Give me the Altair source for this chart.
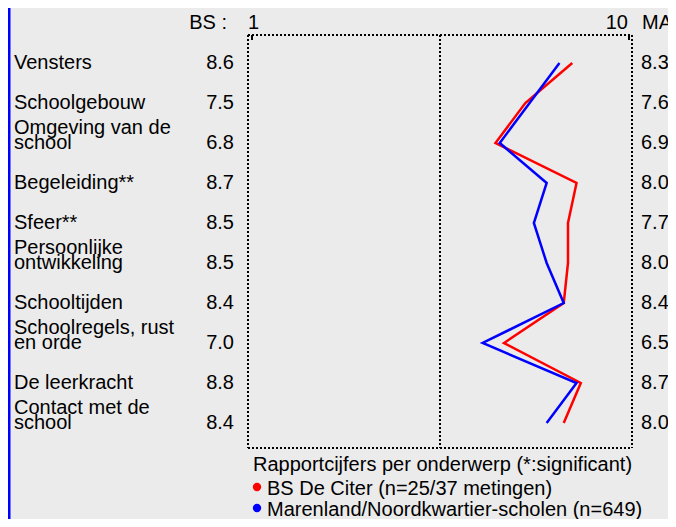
import altair as alt
import pandas as pd

categories = ["Vensters", "Schoolgebouw", "Omgeving van de\nschool", "Begeleiding**",
              "Sfeer**", "Persoonlijke\nontwikkeling", "Schooltijden",
              "Schoolregels, rust\nen orde", "De leerkracht", "Contact met de\nschool"]
bs_values = [8.6, 7.5, 6.8, 8.7, 8.5, 8.5, 8.4, 7.0, 8.8, 8.4]
ma_values = [8.3, 7.6, 6.9, 8.0, 7.7, 8.0, 8.4, 6.5, 8.7, 8.0]
legend_title = "Rapportcijfers per onderwerp (*:significant)"
series_names = ["BS De Citer (n=25/37 metingen)", "Marenland/Noordkwartier-scholen (n=649)"]
series_colors = ["#ff0000", "#0000ff"]

FONT = "Liberation Sans"
FS = 20

rows = []
for i, (c, b, m) in enumerate(zip(categories, bs_values, ma_values)):
    parts = c.split("\n")
    upper = parts[0] if len(parts) > 1 else ""
    lower = parts[-1]
    rows.append({"idx": i, "upper": upper, "lower": lower, "bs": b, "ma": m})
df = pd.DataFrame(rows)

xs = alt.Scale(domain=[1, 10], range=[240, 624], zero=False, nice=False)
ys = alt.Scale(domain=[0, 9], range=[55, 415], zero=False, nice=False)

base = alt.Chart(df)

dot = dict(color="black", strokeWidth=2, strokeDash=[2, 2])

frame_v = [
    alt.Chart(df.head(1)).mark_rule(**dot).encode(
        x=alt.X(datum=v, type="quantitative", scale=xs, axis=None),
        y=alt.value(27), y2=alt.value(440))
    for v in [1, 5.5, 10]
]
frame_h = [
    alt.Chart(df.head(1)).mark_rule(**dot).encode(
        x=alt.X(datum=1, type="quantitative", scale=xs, axis=None),
        x2=alt.X2(datum=10),
        y=alt.value(yv))
    for yv in [27, 440]
]
corner_ticks = [
    alt.Chart(df.head(1)).mark_rule(color="black", strokeWidth=2).encode(
        x=alt.value(xv), y=alt.value(27), y2=alt.value(32))
    for xv in [244, 621]
]

line_bs = base.mark_line(color=series_colors[0], strokeWidth=2.5).encode(
    x=alt.X("bs:Q", scale=xs, axis=None),
    y=alt.Y("idx:Q", scale=ys, axis=None),
    order="idx:Q")
line_ma = base.mark_line(color=series_colors[1], strokeWidth=2.5).encode(
    x=alt.X("ma:Q", scale=xs, axis=None),
    y=alt.Y("idx:Q", scale=ys, axis=None),
    order="idx:Q")

txt = dict(font=FONT, fontSize=FS, color="black", baseline="middle")

lab_lower = base.mark_text(align="left", **txt).encode(
    x=alt.value(6), y=alt.Y("idx:Q", scale=ys, axis=None), text="lower:N")
lab_upper = base.mark_text(align="left", dy=-15, **txt).encode(
    x=alt.value(6), y=alt.Y("idx:Q", scale=ys, axis=None), text="upper:N")
bs_txt = base.mark_text(align="right", **txt).encode(
    x=alt.value(226), y=alt.Y("idx:Q", scale=ys, axis=None),
    text=alt.Text("bs:Q", format=".1f"))
ma_txt = base.mark_text(align="left", **txt).encode(
    x=alt.value(633), y=alt.Y("idx:Q", scale=ys, axis=None),
    text=alt.Text("ma:Q", format=".1f"))

one = alt.Chart(df.head(1))
hdr = [
    one.mark_text(align="right", **txt).encode(x=alt.value(219), y=alt.value(15), text=alt.value("BS :")),
    one.mark_text(align="left", **txt).encode(x=alt.value(240), y=alt.value(15), text=alt.value("1")),
    one.mark_text(align="right", **txt).encode(x=alt.value(620), y=alt.value(15), text=alt.value("10")),
    one.mark_text(align="left", **txt).encode(x=alt.value(634), y=alt.value(15), text=alt.value("MA:")),
]

legend = [
    one.mark_text(align="left", **txt).encode(x=alt.value(245), y=alt.value(457), text=alt.value(legend_title)),
    one.mark_point(filled=True, size=70, opacity=1, color=series_colors[0]).encode(x=alt.value(249), y=alt.value(479)),
    one.mark_text(align="left", **txt).encode(x=alt.value(259), y=alt.value(481), text=alt.value(series_names[0])),
    one.mark_point(filled=True, size=70, opacity=1, color=series_colors[1]).encode(x=alt.value(249), y=alt.value(500)),
    one.mark_text(align="left", **txt).encode(x=alt.value(259), y=alt.value(502), text=alt.value(series_names[1])),
]

left_bar = one.mark_rule(color="#0000ff", strokeWidth=3).encode(
    x=alt.value(1), y=alt.value(0), y2=alt.value(511))

chart = alt.layer(
    *frame_v, *frame_h, *corner_ticks, line_bs, line_ma,
    lab_lower, lab_upper, bs_txt, ma_txt, *hdr, *legend, left_bar
).properties(
    width=660, height=511, padding=0, background="#ebebeb",
    autosize=alt.AutoSizeParams(type="none")
).configure_view(strokeWidth=0)

chart.save("out.html", embed_options={"renderer": "svg", "actions": False})
